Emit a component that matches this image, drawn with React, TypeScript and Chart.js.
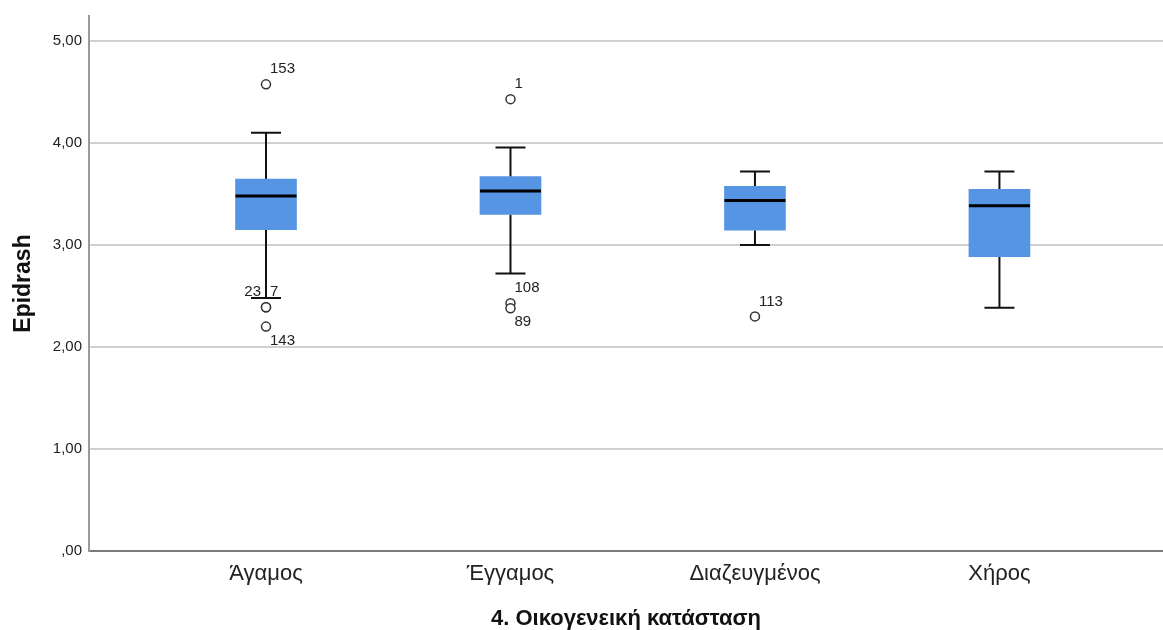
import React, { useEffect, useRef } from "react";
import { Chart, registerables } from "chart.js";

Chart.register(...registerables);

const categories = ["Άγαμος", "Έγγαμος", "Διαζευγμένος", "Χήρος"];
const whiskerLow = [2.48, 2.72, 3.0, 2.385];
const q1 = [3.15, 3.3, 3.145, 2.885];
const median = [3.48, 3.53, 3.435, 3.385];
const q3 = [3.645, 3.67, 3.575, 3.545];
const whiskerHigh = [4.1, 3.955, 3.72, 3.72];

const outlierCat = [0, 0, 0, 0, 1, 1, 1, 2];
const outlierVal = [4.575, 2.39, 2.39, 2.2, 4.43, 2.43, 2.38, 2.3];
const outlierLabel = ["153", "23", "7", "143", "1", "108", "89", "113"];
const outlierLabelPos = ["ur", "ul", "ur", "lr", "ur", "ur", "lr", "ur"];

const yTicks = [0, 1, 2, 3, 4, 5];

const FONT = "'Liberation Sans', Arial, sans-serif";

const boxPlugin = {
  id: "boxParts",
  beforeDatasetsDraw(chart: any) {
    const { ctx, scales } = chart;
    const x = scales.x, y = scales.y;
    ctx.save();
    ctx.strokeStyle = "#111";
    ctx.lineWidth = 2;
    categories.forEach((_, i) => {
      const px = x.getPixelForValue(i);
      const yl = y.getPixelForValue(whiskerLow[i]);
      const yh = y.getPixelForValue(whiskerHigh[i]);
      const y1 = y.getPixelForValue(q1[i]);
      const y3 = y.getPixelForValue(q3[i]);
      ctx.beginPath();
      ctx.moveTo(px, y1);
      ctx.lineTo(px, yl);
      ctx.moveTo(px, y3);
      ctx.lineTo(px, yh);
      ctx.moveTo(px - 15, yl);
      ctx.lineTo(px + 15, yl);
      ctx.moveTo(px - 15, yh);
      ctx.lineTo(px + 15, yh);
      ctx.stroke();
    });
    ctx.restore();
  },
  afterDatasetsDraw(chart: any) {
    const { ctx, scales } = chart;
    const x = scales.x, y = scales.y;
    ctx.save();
    ctx.strokeStyle = "#000";
    ctx.lineWidth = 3;
    categories.forEach((_, i) => {
      const px = x.getPixelForValue(i);
      const ym = y.getPixelForValue(median[i]);
      ctx.beginPath();
      ctx.moveTo(px - 30.5, ym);
      ctx.lineTo(px + 30.5, ym);
      ctx.stroke();
    });
    ctx.fillStyle = "#222";
    ctx.font = `15px ${FONT}`;
    ctx.textBaseline = "middle";
    outlierLabel.forEach((lab, i) => {
      const px = x.getPixelForValue(outlierCat[i]);
      const py = y.getPixelForValue(outlierVal[i]);
      const pos = outlierLabelPos[i];
      let tx = px + 4;
      let ty = py - 15;
      ctx.textAlign = "left";
      if (pos === "ul") {
        ctx.textAlign = "right";
        tx = px - 5;
      }
      if (pos === "lr") {
        ty = py + 14;
      }
      ctx.fillText(lab, tx, ty);
    });
    ctx.restore();
  },
};

export default function App() {
  const ref = useRef<HTMLCanvasElement | null>(null);
  useEffect(() => {
    document.body.style.margin = "0";
    const chart = new Chart(ref.current as HTMLCanvasElement, {
      type: "bar",
      data: {
        datasets: [
          {
            type: "bar",
            data: categories.map((_, i) => ({ x: i, y: [q1[i], q3[i]] })) as any,
            backgroundColor: "#5595e3",
            borderWidth: 0,
            barThickness: 61,
          },
          {
            type: "scatter",
            data: outlierVal.map((v, i) => ({ x: outlierCat[i], y: v })),
            pointStyle: "circle",
            pointRadius: 4.5,
            pointBackgroundColor: "#ffffff",
            pointBorderColor: "#333333",
            pointBorderWidth: 1.5,
          } as any,
        ],
      },
      options: {
        animation: false,
        responsive: true,
        maintainAspectRatio: false,
        layout: { autoPadding: false, padding: { top: 13, right: 0, left: 0, bottom: 0 } },
        plugins: { legend: { display: false }, tooltip: { enabled: false } },
        scales: {
          x: {
            type: "linear",
            offset: false,
            min: -0.724,
            max: 3.669,
            afterBuildTicks: (axis: any) => {
              axis.ticks = categories.map((_, i) => ({ value: i }));
            },
            afterFit: (axis: any) => {
              axis.height = 79;
            },
            grid: { display: false, drawTicks: false },
            border: { display: true, color: "#7a7a7a", width: 2 },
            ticks: {
              padding: 10,
              color: "#222",
              font: { family: FONT, size: 22 },
              callback: (v: any) => categories[v] ?? "",
              maxRotation: 0,
              autoSkip: false,
            },
            title: {
              display: true,
              text: "4. Οικογενεική κατάσταση",
              color: "#111",
              font: { family: FONT, size: 22, weight: "bold", lineHeight: 1 },
              padding: { top: 0, bottom: 0 },
            },
          },
          y: {
            min: 0,
            max: 5.245,
            afterBuildTicks: (axis: any) => {
              axis.ticks = yTicks.map((v) => ({ value: v }));
            },
            afterFit: (axis: any) => {
              axis.width = 89;
            },
            grid: {
              drawTicks: false,
              color: (c: any) => (c.tick && c.tick.value === 0 ? "rgba(0,0,0,0)" : "#d0d0d0"),
              lineWidth: 2,
            },
            border: { display: true, color: "#9a9a9a", width: 2 },
            ticks: {
              padding: 7,
              color: "#222",
              font: { family: FONT, size: 15 },
              callback: (v: any) => (v === 0 ? ",00" : Number(v).toFixed(2).replace(".", ",")),
            },
            title: {
              display: true,
              text: "Epidrash",
              color: "#111",
              font: { family: FONT, size: 23, weight: "bold", lineHeight: 1.2 },
              padding: { top: 10, bottom: 10 },
            },
          },
        },
      },
      plugins: [boxPlugin],
    });
    return () => chart.destroy();
  }, []);
  return (
    <div style={{ position: "absolute", left: 0, top: 0, width: 1163, height: 630 }}>
      <canvas ref={ref} />
    </div>
  );
}
